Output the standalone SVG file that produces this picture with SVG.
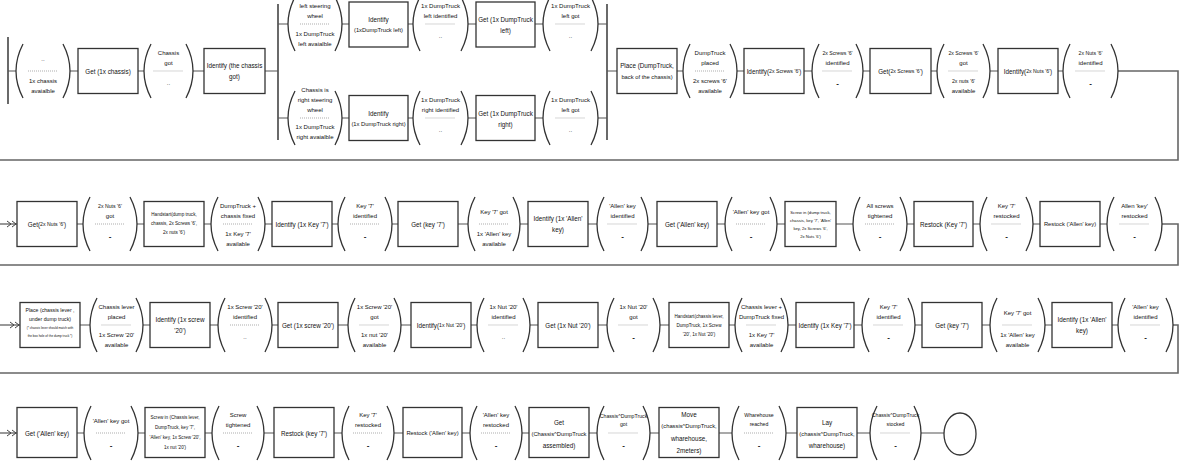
<svg xmlns="http://www.w3.org/2000/svg" width="1201" height="475" viewBox="0 0 1201 475">
<style>
.b{fill:#fff;stroke:#333;stroke-width:1.3}
.a{fill:none;stroke:#333;stroke-width:1.3}
.d{stroke:#777;stroke-width:0.6;stroke-dasharray:1 1}
.c{fill:none;stroke:#555;stroke-width:1.2}
.L{fill:none;stroke:#666;stroke-width:1.6}
.bar{stroke:#444;stroke-width:1.6}
text{font-family:"Liberation Sans",Arial,sans-serif;fill:#111;text-anchor:middle;dominant-baseline:central}
.t{font-size:6.3px}
.u{font-size:5.8px}
.s{font-size:6px}
.m{font-size:5.2px}
.x{font-size:4.6px}
.z{font-size:4.2px}
.y{font-size:3.1px}
.k{font-size:8px;font-weight:bold}
</style>
<defs>
<marker id="dbl" viewBox="0 0 10 8" refX="10" refY="4" markerWidth="10" markerHeight="8" markerUnits="userSpaceOnUse" orient="auto">
<path d="M0,1 L4,4 L0,7 M5,1 L9,4 L5,7" fill="none" stroke="#444" stroke-width="1"/>
</marker>
</defs>
<rect width="1201" height="475" fill="#fff"/>
<g id="connectors">
<line class="bar" x1="8" y1="37" x2="8" y2="104"/>
<line class="bar" x1="278" y1="4" x2="278" y2="140"/>
<line class="bar" x1="607" y1="4" x2="607" y2="140"/>
<path class="c" d="M8 71H16M70 71H78M138 71H144M193 71H204M265 71H278"/>
<path class="c" d="M278 24H288M342 24H349M408 24H413M468 24H476M535 24H543M598 24H607"/>
<path class="c" d="M278 118H288M342 118H349M408 118H413M468 118H476M535 118H543M598 118H607"/>
<path class="c" d="M607 71H617M677 71H683M737 71H744M804 71H812M863 71H870M931 71H937M990 71H998M1058 71H1063"/>
<path class="L" d="M1118 71H1178V160H-2"/>
<path class="c" d="M-2 224H17" marker-end="url(#dbl)"/>
<path class="c" d="M77 224H83M137 224H144M204 224H211M265 224H272M332 224H338M392 224H398M458 224H468M520 224H528M588 224H597M648 224H657M717 224H725M777 224H785M836 224H853M907 224H914M973 224H980M1033 224H1040M1100 224H1107"/>
<path class="L" d="M1162 224H1178V265H-2"/>
<path class="c" d="M-2 325H20" marker-end="url(#dbl)"/>
<path class="c" d="M80 325H90M143 325H150M210 325H218M272 325H278M338 325H348M401 325H411M471 325H477M530 325H538M598 325H607M660 325H669M729 325H735M788 325H796M854 325H862M915 325H922M982 325H990M1045 325H1052M1112 325H1118"/>
<path class="L" d="M1173 325H1178V373H-2"/>
<path class="c" d="M-2 433H17" marker-end="url(#dbl)"/>
<path class="c" d="M77 433H84M138 433H145M205 433H212M264 433H274M334 433H342M394 433H403M462 433H470M522 433H529M589 433H597M650 433H659M719 433H732M786 433H797M857 433H870M921 433H944"/>
</g>

<!-- Row 1 -->
<g id="s1"><path class="a" d="M23 44Q9 71 23 98M63 44Q77 71 63 98"/><line class="d" x1="28" y1="71" x2="58" y2="71"/><text class="s" x="43" y="59">..</text><text class="s" x="43" y="81">1x chassis</text><text class="s" x="43" y="91">avaialble</text></g>
<g id="b1"><rect class="b" x="78" y="48.5" width="60" height="45"/><text class="t" x="108" y="71">Get (1x chassis)</text></g>
<g id="s2"><path class="a" d="M151 44Q137 71 151 98M186 44Q200 71 186 98"/><line class="d" x1="153.5" y1="71" x2="183.5" y2="71"/><text class="s" x="168.5" y="53">Chassis</text><text class="s" x="168.5" y="63">got</text><text class="s" x="168.5" y="83">..</text></g>
<g id="b2"><rect class="b" x="204" y="48.5" width="61" height="45"/><text class="t" x="234.5" y="65.5">Identify (the chassis</text><text class="t" x="234.5" y="76.5">got)</text></g>

<g id="s3"><path class="a" d="M295 -3Q281 24 295 51M335 -3Q349 24 335 51"/><line class="d" x1="300" y1="24" x2="330" y2="24"/><text class="s" x="315" y="6">left steering</text><text class="s" x="315" y="16">wheel</text><text class="s" x="315" y="34">1x DumpTruck</text><text class="s" x="315" y="44">left avaialble</text></g>
<g id="b3"><rect class="b" x="349" y="2" width="59" height="45"/><text class="t" x="378.5" y="19">Identify</text><text class="u" x="378.5" y="30">(1xDumpTruck left)</text></g>
<g id="s4"><path class="a" d="M420 -3Q406 24 420 51M461 -3Q475 24 461 51"/><line class="d" x1="425.5" y1="24" x2="455.5" y2="24"/><text class="s" x="440.5" y="6">1x DumpTruck</text><text class="s" x="440.5" y="16">left identified</text><text class="s" x="440.5" y="36">..</text></g>
<g id="b4"><rect class="b" x="476" y="2" width="59" height="45"/><text class="t" x="505.5" y="19">Get (1x DumpTruck</text><text class="t" x="505.5" y="30">left)</text></g>
<g id="s5"><path class="a" d="M550 -3Q536 24 550 51M591 -3Q605 24 591 51"/><line class="d" x1="555.5" y1="24" x2="585.5" y2="24"/><text class="s" x="570.5" y="6">1x DumpTruck</text><text class="s" x="570.5" y="16">left got</text><text class="s" x="570.5" y="36">..</text></g>

<g id="s6"><path class="a" d="M295 91Q281 118 295 145M335 91Q349 118 335 145"/><line class="d" x1="300" y1="118" x2="330" y2="118"/><text class="s" x="315" y="90">Chassis is</text><text class="s" x="315" y="100">right steering</text><text class="s" x="315" y="110">wheel</text><text class="s" x="315" y="127">1x DumpTruck</text><text class="s" x="315" y="137">right avaialble</text></g>
<g id="b5"><rect class="b" x="349" y="95.5" width="59" height="45"/><text class="t" x="378.5" y="113">Identify</text><text class="u" x="378.5" y="124">(1x DumpTruck right)</text></g>
<g id="s7"><path class="a" d="M420 91Q406 118 420 145M461 91Q475 118 461 145"/><line class="d" x1="425.5" y1="118" x2="455.5" y2="118"/><text class="s" x="440.5" y="100">1x DumpTruck</text><text class="s" x="440.5" y="110">right identified</text><text class="s" x="440.5" y="130">..</text></g>
<g id="b6"><rect class="b" x="476" y="95.5" width="59" height="45"/><text class="t" x="505.5" y="113">Get (1x DumpTruck</text><text class="t" x="505.5" y="124">right)</text></g>
<g id="s8"><path class="a" d="M550 91Q536 118 550 145M591 91Q605 118 591 145"/><line class="d" x1="555.5" y1="118" x2="585.5" y2="118"/><text class="s" x="570.5" y="100">1x DumpTruck</text><text class="s" x="570.5" y="110">left got</text><text class="s" x="570.5" y="130">..</text></g>

<g id="b7"><rect class="b" x="617" y="48.5" width="60" height="45"/><text class="t" x="647" y="65.5">Place (DumpTruck,</text><text class="u" x="647" y="76.5">back of the chassis)</text></g>
<g id="s9"><path class="a" d="M690 44Q676 71 690 98M730 44Q744 71 730 98"/><line class="d" x1="695" y1="71" x2="725" y2="71"/><text class="s" x="710" y="53">DumpTruck</text><text class="s" x="710" y="63">placed</text><text class="s" x="710" y="81">2x screws '6'</text><text class="s" x="710" y="91">available</text></g>
<g id="b8"><rect class="b" x="744" y="48.5" width="60" height="45"/><text class="t" x="774" y="71">Identify(<tspan class="m">2x Screws '6'</tspan>)</text></g>
<g id="s10"><path class="a" d="M819 44Q805 71 819 98M856 44Q870 71 856 98"/><line class="d" x1="822.5" y1="71" x2="852.5" y2="71"/><text class="m" x="837.5" y="53">2x Screws '6'</text><text class="s" x="837.5" y="63">identified</text><text class="k" x="837.5" y="83">-</text></g>
<g id="b9"><rect class="b" x="870" y="48.5" width="61" height="45"/><text class="t" x="900.5" y="71">Get(<tspan class="m">2x Screws '6'</tspan>)</text></g>
<g id="s11"><path class="a" d="M944 44Q930 71 944 98M983 44Q997 71 983 98"/><line class="d" x1="948.5" y1="71" x2="978.5" y2="71"/><text class="m" x="963.5" y="53">2x Screws '6'</text><text class="s" x="963.5" y="63">got</text><text class="m" x="963.5" y="81">2x nuts '6'</text><text class="s" x="963.5" y="91">available</text></g>
<g id="b10"><rect class="b" x="998" y="48.5" width="60" height="45"/><text class="t" x="1028" y="71">Identify(<tspan class="m">2x Nuts '6'</tspan>)</text></g>
<g id="s12"><path class="a" d="M1070 44Q1056 71 1070 98M1111 44Q1125 71 1111 98"/><line class="d" x1="1075.5" y1="71" x2="1105.5" y2="71"/><text class="m" x="1090.5" y="53">2x Nuts '6'</text><text class="s" x="1090.5" y="63">identified</text><text class="k" x="1090.5" y="83">-</text></g>

<!-- Row 2 -->
<g id="r2b1"><rect class="b" x="17" y="201.5" width="60" height="45"/><text class="t" x="47" y="224">Get(<tspan class="m">2x Nuts '6'</tspan>)</text></g>
<g id="r2s1"><path class="a" d="M90 197Q76 224 90 251M130 197Q144 224 130 251"/><line class="d" x1="95" y1="224" x2="125" y2="224"/><text class="m" x="110" y="206">2x Nuts '6'</text><text class="s" x="110" y="216">got</text><text class="k" x="110" y="236">-</text></g>
<g id="r2b2"><rect class="b" x="144" y="201.5" width="60" height="45"/><text class="x" x="174" y="214">Handstart(dump truck,</text><text class="x" x="174" y="223">chassis, 2x Screws '6',</text><text class="x" x="174" y="232">2x nuts '6')</text></g>
<g id="r2s2"><path class="a" d="M218 197Q204 224 218 251M258 197Q272 224 258 251"/><line class="d" x1="223" y1="224" x2="253" y2="224"/><text class="s" x="238" y="206">DumpTruck +</text><text class="s" x="238" y="216">chassis fixed</text><text class="s" x="238" y="234">1x Key '7'</text><text class="s" x="238" y="244">available</text></g>
<g id="r2b3"><rect class="b" x="272" y="201.5" width="60" height="45"/><text class="t" x="302" y="224">Identify (1x Key '7')</text></g>
<g id="r2s3"><path class="a" d="M345 197Q331 224 345 251M385 197Q399 224 385 251"/><line class="d" x1="350" y1="224" x2="380" y2="224"/><text class="s" x="365" y="206">Key '7'</text><text class="s" x="365" y="216">identified</text><text class="k" x="365" y="236">-</text></g>
<g id="r2b4"><rect class="b" x="398" y="201.5" width="60" height="45"/><text class="t" x="428" y="224">Get (key '7')</text></g>
<g id="r2s4"><path class="a" d="M475 197Q461 224 475 251M513 197Q527 224 513 251"/><line class="d" x1="479" y1="224" x2="509" y2="224"/><text class="s" x="494" y="212">Key '7' got</text><text class="s" x="494" y="234">1x 'Allen' key</text><text class="s" x="494" y="244">available</text></g>
<g id="r2b5"><rect class="b" x="528" y="201.5" width="60" height="45"/><text class="t" x="558" y="218.5">Identify (1x 'Allen'</text><text class="t" x="558" y="229.5">key)</text></g>
<g id="r2s5"><path class="a" d="M604 197Q590 224 604 251M641 197Q655 224 641 251"/><line class="d" x1="607.5" y1="224" x2="637.5" y2="224"/><text class="s" x="622.5" y="206">'Allen' key</text><text class="s" x="622.5" y="216">identified</text><text class="k" x="622.5" y="236">-</text></g>
<g id="r2b6"><rect class="b" x="657" y="201.5" width="60" height="45"/><text class="t" x="687" y="224">Get ('Allen' key)</text></g>
<g id="r2s6"><path class="a" d="M732 197Q718 224 732 251M770 197Q784 224 770 251"/><line class="d" x1="736" y1="224" x2="766" y2="224"/><text class="s" x="751" y="212">'Allen' key got</text><text class="k" x="751" y="236">-</text></g>
<g id="r2b7"><rect class="b" x="785" y="201.5" width="51" height="45"/><text class="z" x="810.5" y="212">Screw in (dump truck,</text><text class="z" x="810.5" y="220">chassis, key '7', 'Allen'</text><text class="z" x="810.5" y="228">key, 2x Screws '6',</text><text class="z" x="810.5" y="236">2x Nuts '6')</text></g>
<g id="r2s7"><path class="a" d="M860 197Q846 224 860 251M900 197Q914 224 900 251"/><line class="d" x1="865" y1="224" x2="895" y2="224"/><text class="s" x="880" y="206">All screws</text><text class="s" x="880" y="216">tightened</text><text class="k" x="880" y="236">-</text></g>
<g id="r2b8"><rect class="b" x="914" y="201.5" width="59" height="45"/><text class="t" x="943.5" y="224">Restock (Key '7')</text></g>
<g id="r2s8"><path class="a" d="M987 197Q973 224 987 251M1026 197Q1040 224 1026 251"/><line class="d" x1="991.5" y1="224" x2="1021.5" y2="224"/><text class="s" x="1006.5" y="206">Key '7'</text><text class="s" x="1006.5" y="216">restocked</text><text class="k" x="1006.5" y="236">-</text></g>
<g id="r2b9"><rect class="b" x="1040" y="201.5" width="60" height="45"/><text class="u" x="1070" y="224">Restock ('Allen' key)</text></g>
<g id="r2s9"><path class="a" d="M1114 197Q1100 224 1114 251M1155 197Q1169 224 1155 251"/><line class="d" x1="1119.5" y1="224" x2="1149.5" y2="224"/><text class="s" x="1134.5" y="206">Allen 'key'</text><text class="s" x="1134.5" y="216">restocked</text><text class="k" x="1134.5" y="236">-</text></g>

<!-- Row 3 -->
<g id="r3b1"><rect class="b" x="20" y="302.5" width="60" height="45"/><text class="m" x="50" y="310">Place (chassis lever ,</text><text class="m" x="50" y="319">under dump truck)</text><text class="y" x="50" y="328">(* chassis lever should match with</text><text class="y" x="50" y="336">the box hole of the dump truck *)</text></g>
<g id="r3s1"><path class="a" d="M97 298Q83 325 97 352M136 298Q150 325 136 352"/><line class="d" x1="101.5" y1="325" x2="131.5" y2="325"/><text class="s" x="116.5" y="307">Chassis lever</text><text class="s" x="116.5" y="317">placed</text><text class="s" x="116.5" y="335">1x Screw '20'</text><text class="s" x="116.5" y="345">available</text></g>
<g id="r3b2"><rect class="b" x="150" y="302.5" width="60" height="45"/><text class="t" x="180" y="319.5">Identify (1x screw</text><text class="t" x="180" y="330.5">'20')</text></g>
<g id="r3s2"><path class="a" d="M225 298Q211 325 225 352M265 298Q279 325 265 352"/><line class="d" x1="230" y1="325" x2="260" y2="325"/><text class="s" x="245" y="307">1x Screw '20'</text><text class="s" x="245" y="317">identified</text><text class="s" x="245" y="337">..</text></g>
<g id="r3b3"><rect class="b" x="278" y="302.5" width="60" height="45"/><text class="t" x="308" y="325">Get (1x screw '20')</text></g>
<g id="r3s3"><path class="a" d="M355 298Q341 325 355 352M394 298Q408 325 394 352"/><line class="d" x1="359.5" y1="325" x2="389.5" y2="325"/><text class="s" x="374.5" y="307">1x Screw '20'</text><text class="s" x="374.5" y="317">got</text><text class="s" x="374.5" y="335">1x nut '20'</text><text class="s" x="374.5" y="345">available</text></g>
<g id="r3b4"><rect class="b" x="411" y="302.5" width="60" height="45"/><text class="t" x="441" y="325">Identify(<tspan class="m">1x Nut '20'</tspan>)</text></g>
<g id="r3s4"><path class="a" d="M484 298Q470 325 484 352M523 298Q537 325 523 352"/><line class="d" x1="488.5" y1="325" x2="518.5" y2="325"/><text class="s" x="503.5" y="307">1x Nut '20'</text><text class="s" x="503.5" y="317">identified</text><text class="s" x="503.5" y="337">..</text></g>
<g id="r3b5"><rect class="b" x="538" y="302.5" width="60" height="45"/><text class="t" x="568" y="325">Get (1x Nut '20')</text></g>
<g id="r3s5"><path class="a" d="M614 298Q600 325 614 352M653 298Q667 325 653 352"/><line class="d" x1="618.5" y1="325" x2="648.5" y2="325"/><text class="s" x="633.5" y="307">1x Nut '20'</text><text class="s" x="633.5" y="317">got</text><text class="k" x="633.5" y="337">-</text></g>
<g id="r3b6"><rect class="b" x="669" y="302.5" width="60" height="45"/><text class="x" x="699" y="316">Handstart(chassis lever,</text><text class="x" x="699" y="325">DumpTruck, 1x Screw</text><text class="x" x="699" y="334">'20', 1x Nut '20')</text></g>
<g id="r3s6"><path class="a" d="M742 298Q728 325 742 352M781 298Q795 325 781 352"/><line class="d" x1="746.5" y1="325" x2="776.5" y2="325"/><text class="s" x="761.5" y="307">Chassis lever +</text><text class="s" x="761.5" y="317">DumpTruck fixed</text><text class="s" x="761.5" y="335">1x Key '7'</text><text class="s" x="761.5" y="345">available</text></g>
<g id="r3b7"><rect class="b" x="796" y="302.5" width="58" height="45"/><text class="t" x="825" y="325">Identify (1x Key '7')</text></g>
<g id="r3s7"><path class="a" d="M869 298Q855 325 869 352M908 298Q922 325 908 352"/><line class="d" x1="873.5" y1="325" x2="903.5" y2="325"/><text class="s" x="888.5" y="307">Key '7'</text><text class="s" x="888.5" y="317">identified</text><text class="k" x="888.5" y="337">-</text></g>
<g id="r3b8"><rect class="b" x="922" y="302.5" width="60" height="45"/><text class="t" x="952" y="325">Get (key '7')</text></g>
<g id="r3s8"><path class="a" d="M997 298Q983 325 997 352M1038 298Q1052 325 1038 352"/><line class="d" x1="1002.5" y1="325" x2="1032.5" y2="325"/><text class="s" x="1017.5" y="313">Key '7' got</text><text class="s" x="1017.5" y="335">1x 'Allen' key</text><text class="s" x="1017.5" y="345">available</text></g>
<g id="r3b9"><rect class="b" x="1052" y="302.5" width="60" height="45"/><text class="t" x="1082" y="319.5">Identify (1x 'Allen'</text><text class="t" x="1082" y="330.5">key)</text></g>
<g id="r3s9"><path class="a" d="M1125 298Q1111 325 1125 352M1166 298Q1180 325 1166 352"/><line class="d" x1="1130.5" y1="325" x2="1160.5" y2="325"/><text class="s" x="1145.5" y="307">'Allen' key</text><text class="s" x="1145.5" y="317">identified</text><text class="k" x="1145.5" y="337">-</text></g>

<!-- Row 4 -->
<g id="r4b1"><rect class="b" x="17" y="407.5" width="60" height="50"/><text class="t" x="47" y="433">Get ('Allen' key)</text></g>
<g id="r4s1"><path class="a" d="M91 406Q77 433 91 460M131 406Q145 433 131 460"/><line class="d" x1="96" y1="433" x2="126" y2="433"/><text class="s" x="111" y="421">'Allen' key got</text><text class="k" x="111" y="445">-</text></g>
<g id="r4b2"><rect class="b" x="145" y="407.5" width="60" height="50"/><text class="x" x="175" y="417">Screw in (Chassis lever,</text><text class="x" x="175" y="427">DumpTruck, key '7',</text><text class="x" x="175" y="437">'Allen' key, 1x Screw '20',</text><text class="x" x="175" y="447">1x nut '20')</text></g>
<g id="r4s2"><path class="a" d="M219 406Q205 433 219 460M257 406Q271 433 257 460"/><line class="d" x1="223" y1="433" x2="253" y2="433"/><text class="s" x="238" y="415">Screw</text><text class="s" x="238" y="425">tightened</text><text class="k" x="238" y="445">-</text></g>
<g id="r4b3"><rect class="b" x="274" y="407.5" width="60" height="50"/><text class="t" x="304" y="433">Restock (key '7')</text></g>
<g id="r4s3"><path class="a" d="M349 406Q335 433 349 460M387 406Q401 433 387 460"/><line class="d" x1="353" y1="433" x2="383" y2="433"/><text class="s" x="368" y="415">Key '7'</text><text class="s" x="368" y="425">restocked</text><text class="k" x="368" y="445">-</text></g>
<g id="r4b4"><rect class="b" x="403" y="407.5" width="59" height="50"/><text class="u" x="432.5" y="433">Restock ('Allen' key)</text></g>
<g id="r4s4"><path class="a" d="M477 406Q463 433 477 460M515 406Q529 433 515 460"/><line class="d" x1="481" y1="433" x2="511" y2="433"/><text class="s" x="496" y="415">'Allen' key</text><text class="s" x="496" y="425">restocked</text><text class="k" x="496" y="445">-</text></g>
<g id="r4b5"><rect class="b" x="529" y="407.5" width="60" height="50"/><text class="t" x="559" y="422">Get</text><text class="u" x="559" y="434">(Chassis^DumpTruck</text><text class="t" x="559" y="445">assembled)</text></g>
<g id="r4s5"><path class="a" d="M604 406Q590 433 604 460M643 406Q657 433 643 460"/><line class="d" x1="608.5" y1="433" x2="638.5" y2="433"/><text class="m" x="623.5" y="416">Chassis^DumpTruck</text><text class="m" x="623.5" y="424">got</text><text class="k" x="623.5" y="445">-</text></g>
<g id="r4b6"><rect class="b" x="659" y="407.5" width="60" height="50"/><text class="t" x="689" y="414">Move</text><text class="u" x="689" y="426">(chassis^DumpTruck,</text><text class="t" x="689" y="438">wharehouse,</text><text class="t" x="689" y="450">2meters)</text></g>
<g id="r4s6"><path class="a" d="M739 406Q725 433 739 460M779 406Q793 433 779 460"/><line class="d" x1="744" y1="433" x2="774" y2="433"/><text class="m" x="759" y="415">Wharehouse</text><text class="m" x="759" y="424">reached</text><text class="k" x="759" y="445">-</text></g>
<g id="r4b7"><rect class="b" x="797" y="407.5" width="60" height="50"/><text class="t" x="827" y="422">Lay</text><text class="u" x="827" y="434">(chassis^DumpTruck,</text><text class="t" x="827" y="445">wharehouse)</text></g>
<g id="r4s7"><path class="a" d="M877 406Q863 433 877 460M914 406Q928 433 914 460"/><line class="d" x1="880.5" y1="433" x2="910.5" y2="433"/><text class="m" x="895.5" y="415">Chassis^DumpTruck</text><text class="m" x="895.5" y="424">stocked</text><text class="k" x="895.5" y="445">-</text></g>
<g id="end"><ellipse class="a" cx="960" cy="434" rx="16" ry="21"/></g>
</svg>
